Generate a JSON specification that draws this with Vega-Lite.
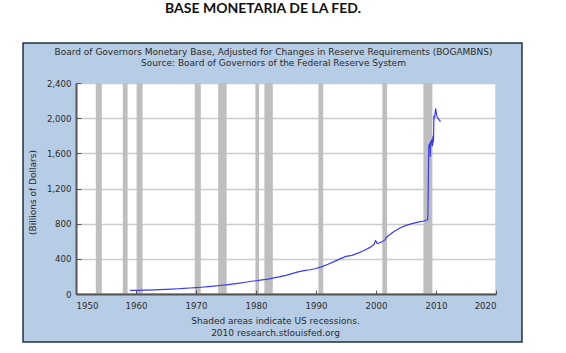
{
  "$schema": "https://vega.github.io/schema/vega-lite/v6.json",
  "autosize": "none",
  "width": 420,
  "height": 211,
  "padding": {"left": 76, "top": 83, "right": 70, "bottom": 59},
  "background": "white",
  "config": {
    "font": "DejaVu Sans",
    "view": {"fill": "white", "stroke": "#cccccc", "strokeWidth": 1.5},
    "axis": {"labelFont": "DejaVu Sans", "labelFontSize": 8.6, "labelColor": "#2b2b2b", "titleFont": "DejaVu Sans", "titleFontSize": 9, "titleColor": "#2b2b2b", "titleFontWeight": "normal"}
  },
  "title": {
    "text": "BASE MONETARIA DE LA FED.",
    "font": "Lato",
    "fontSize": 14,
    "fontWeight": "bold",
    "color": "#111111",
    "anchor": "middle",
    "dx": -23,
    "offset": 26
  },
  "datasets": {
    "recessions": [
      {"start": 1953.3, "end": 1954.3},
      {"start": 1957.8, "end": 1958.6},
      {"start": 1960.1, "end": 1961.1},
      {"start": 1969.8, "end": 1970.8},
      {"start": 1973.7, "end": 1975.1},
      {"start": 1979.9, "end": 1980.5},
      {"start": 1981.4, "end": 1982.8},
      {"start": 1990.4, "end": 1991.2},
      {"start": 2001.05, "end": 2001.85},
      {"start": 2007.9, "end": 2009.4}
    ],
    "base": [
      {"year": 1959.0, "value": 40}, {"year": 1959.5, "value": 41}, {"year": 1960.0, "value": 42},
      {"year": 1960.5, "value": 41}, {"year": 1961.0, "value": 43}, {"year": 1962.0, "value": 44},
      {"year": 1963.0, "value": 47}, {"year": 1964.0, "value": 50}, {"year": 1965.0, "value": 53},
      {"year": 1966.0, "value": 56}, {"year": 1967.0, "value": 60}, {"year": 1968.0, "value": 64},
      {"year": 1969.0, "value": 68}, {"year": 1970.0, "value": 72}, {"year": 1971.0, "value": 77},
      {"year": 1972.0, "value": 83}, {"year": 1973.0, "value": 90}, {"year": 1974.0, "value": 97},
      {"year": 1975.0, "value": 104}, {"year": 1976.0, "value": 112}, {"year": 1977.0, "value": 121},
      {"year": 1978.0, "value": 131}, {"year": 1979.0, "value": 142}, {"year": 1980.0, "value": 151},
      {"year": 1981.0, "value": 160}, {"year": 1982.0, "value": 170}, {"year": 1983.0, "value": 184},
      {"year": 1984.0, "value": 197}, {"year": 1985.0, "value": 212}, {"year": 1986.0, "value": 232},
      {"year": 1987.0, "value": 252}, {"year": 1988.0, "value": 266}, {"year": 1989.0, "value": 276},
      {"year": 1990.0, "value": 290}, {"year": 1991.0, "value": 312}, {"year": 1992.0, "value": 338},
      {"year": 1993.0, "value": 368}, {"year": 1994.0, "value": 400}, {"year": 1995.0, "value": 428},
      {"year": 1996.0, "value": 440}, {"year": 1997.0, "value": 465}, {"year": 1998.0, "value": 495},
      {"year": 1999.0, "value": 530}, {"year": 1999.7, "value": 565}, {"year": 1999.9, "value": 605},
      {"year": 2000.0, "value": 600}, {"year": 2000.2, "value": 575}, {"year": 2000.5, "value": 580},
      {"year": 2001.0, "value": 595}, {"year": 2001.5, "value": 615}, {"year": 2001.7, "value": 640},
      {"year": 2002.0, "value": 660}, {"year": 2003.0, "value": 710}, {"year": 2004.0, "value": 750},
      {"year": 2005.0, "value": 780}, {"year": 2006.0, "value": 800}, {"year": 2007.0, "value": 818},
      {"year": 2008.0, "value": 830}, {"year": 2008.6, "value": 845}, {"year": 2008.65, "value": 900},
      {"year": 2008.7, "value": 1150}, {"year": 2008.75, "value": 1450}, {"year": 2008.8, "value": 1700},
      {"year": 2008.9, "value": 1660}, {"year": 2009.0, "value": 1720}, {"year": 2009.05, "value": 1560},
      {"year": 2009.1, "value": 1740}, {"year": 2009.2, "value": 1700}, {"year": 2009.3, "value": 1760},
      {"year": 2009.4, "value": 1680}, {"year": 2009.5, "value": 1800}, {"year": 2009.55, "value": 1720},
      {"year": 2009.6, "value": 1780}, {"year": 2009.65, "value": 2030}, {"year": 2009.75, "value": 2000},
      {"year": 2009.85, "value": 2060}, {"year": 2009.95, "value": 2110}, {"year": 2010.05, "value": 2060},
      {"year": 2010.15, "value": 2020}, {"year": 2010.3, "value": 2000}, {"year": 2010.45, "value": 1990},
      {"year": 2010.6, "value": 1975}, {"year": 2010.75, "value": 1960}
    ]
  },
  "resolve": {"axis": {"x": "independent", "y": "independent"}},
  "layer": [
    {
      "data": {"values": [{}]},
      "mark": {"type": "rect", "clip": false, "color": "#b6cde5"},
      "encoding": {
        "x": {"datum": 1941.17, "type": "quantitative", "scale": {"domain": [1950, 2020], "nice": false, "zero": false},
          "axis": {"orient": "bottom", "zindex": 1, "values": [1950, 1960, 1970, 1980, 1990, 2000, 2010, 2020], "format": "d", "grid": false,
            "domainColor": "#555555", "domainWidth": 2, "tickColor": "#555555", "tickSize": -4, "labelPadding": 11,
            "title": ["Shaded areas indicate US recessions.", "2010 research.stlouisfed.org"],
            "titleX": 199, "titleY": 22, "titleBaseline": "top", "titleAlign": "center", "titleLineHeight": 12}},
        "x2": {"datum": 1950},
        "y": {"datum": -546, "type": "quantitative", "scale": {"domain": [0, 2400], "nice": false, "zero": false},
          "axis": {"orient": "left", "zindex": 1, "values": [0, 400, 800, 1200, 1600, 2000, 2400], "format": ",d", "grid": false,
            "domainColor": "#555555", "domainWidth": 2, "tickColor": "#555555", "tickSize": -5, "labelPadding": 10,
            "title": "(Billions of Dollars)", "titleX": -44, "titleY": 109, "titleAngle": -90, "titleBaseline": "middle", "titleAlign": "center"}},
        "y2": {"datum": 2855}
      }
    },
    {
      "data": {"values": [{}]},
      "mark": {"type": "rect", "clip": false, "color": "#b6cde5"},
      "encoding": {
        "x": {"datum": 2020, "type": "quantitative", "scale": {"domain": [1950, 2020], "nice": false, "zero": false},
          "axis": {"orient": "top", "zindex": 1, "labels": false, "ticks": false, "domain": false, "grid": false,
            "title": ["Board of Governors Monetary Base, Adjusted for Changes in Reserve Requirements (BOGAMBNS)", "Source: Board of Governors of the Federal Reserve System"],
            "titleX": 197, "titleY": -36, "titleBaseline": "top", "titleAlign": "center", "titleLineHeight": 11}},
        "x2": {"datum": 2024.33},
        "y": {"datum": -546, "type": "quantitative", "scale": {"domain": [0, 2400], "nice": false, "zero": false},
          "axis": {"orient": "right", "zindex": 0, "values": [0, 400, 800, 1200, 1600, 2000, 2400], "labels": false, "ticks": false, "domain": false,
            "grid": true, "gridColor": "#cccccc", "gridWidth": 1.5, "title": null}},
        "y2": {"datum": 2855}
      }
    },
    {
      "data": {"values": [{}]},
      "mark": {"type": "rect", "clip": false, "color": "#b6cde5"},
      "encoding": {
        "x": {"datum": 1949.9, "type": "quantitative", "scale": {"domain": [1950, 2020], "nice": false, "zero": false}, "axis": null},
        "x2": {"datum": 2020.1},
        "y": {"datum": 2400, "type": "quantitative", "scale": {"domain": [0, 2400], "nice": false, "zero": false}, "axis": null},
        "y2": {"datum": 2855}
      }
    },
    {
      "data": {"values": [{}]},
      "mark": {"type": "rect", "clip": false, "color": "#b6cde5"},
      "encoding": {
        "x": {"datum": 1949.9, "type": "quantitative", "scale": {"domain": [1950, 2020], "nice": false, "zero": false}, "axis": null},
        "x2": {"datum": 2020.1},
        "y": {"datum": -546, "type": "quantitative", "scale": {"domain": [0, 2400], "nice": false, "zero": false}, "axis": null},
        "y2": {"datum": 0}
      }
    },
    {
      "data": {"values": [{}]},
      "mark": {"type": "rect", "clip": false, "fillOpacity": 0, "stroke": "#233040", "strokeWidth": 1.5},
      "encoding": {
        "x": {"datum": 1941.17, "type": "quantitative", "scale": {"domain": [1950, 2020], "nice": false, "zero": false}, "axis": null},
        "x2": {"datum": 2024.33},
        "y": {"datum": -546, "type": "quantitative", "scale": {"domain": [0, 2400], "nice": false, "zero": false}, "axis": null},
        "y2": {"datum": 2855}
      }
    },
    {
      "data": {"name": "recessions"},
      "mark": {"type": "rect", "color": "#bebebe"},
      "encoding": {
        "x": {"field": "start", "type": "quantitative", "scale": {"domain": [1950, 2020], "nice": false, "zero": false}, "axis": null},
        "x2": {"field": "end"},
        "y": {"datum": 0, "type": "quantitative", "scale": {"domain": [0, 2400], "nice": false, "zero": false}, "axis": null},
        "y2": {"datum": 2400}
      }
    },
    {
      "data": {"name": "base"},
      "mark": {"type": "line", "color": "#3a3aff", "strokeWidth": 1.2, "clip": true},
      "encoding": {
        "x": {"field": "year", "type": "quantitative", "scale": {"domain": [1950, 2020], "nice": false, "zero": false}, "axis": null},
        "y": {"field": "value", "type": "quantitative", "scale": {"domain": [0, 2400], "nice": false, "zero": false}, "axis": null}
      }
    }
  ]
}
